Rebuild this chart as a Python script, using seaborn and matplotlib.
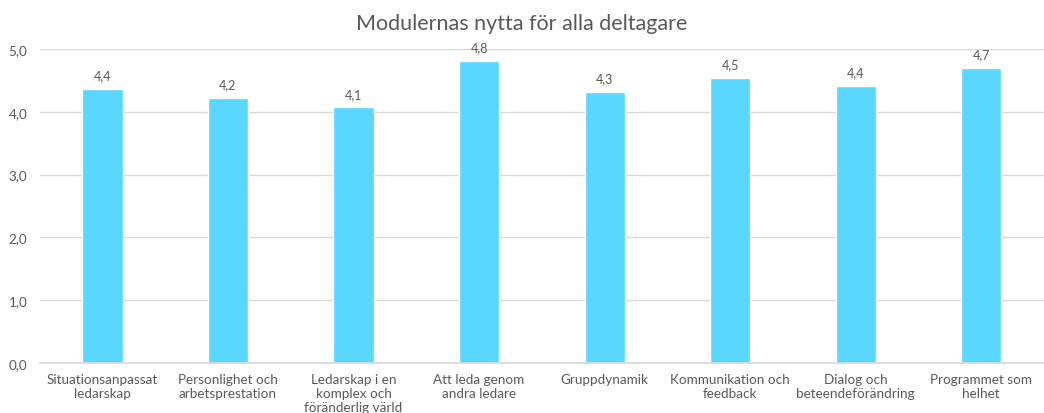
import matplotlib
matplotlib.use("Agg")
import matplotlib.pyplot as plt
import seaborn as sns
import pandas as pd

sns.set_theme(style="white")
plt.rcParams['font.family'] = ['Lato', 'DejaVu Sans']

modules = [
    "Situationsanpassat\nledarskap",
    "Personlighet och\narbetsprestation",
    "Ledarskap i en\nkomplex och\nföränderlig värld",
    "Att leda genom\nandra ledare",
    "Gruppdynamik",
    "Kommunikation och\nfeedback",
    "Dialog och\nbeteendeförändring",
    "Programmet som\nhelhet",
]
scores = [4.36, 4.22, 4.07, 4.81, 4.32, 4.54, 4.41, 4.70]
yticks = [0, 1, 2, 3, 4, 5]

df = pd.DataFrame({"Modul": modules, "Nytta": scores})

text_col = "#595959"
bar_col = "#59D7FF"

fig = plt.figure(figsize=(10.44, 4.14), dpi=100)
ax = fig.add_axes([0.038, 0.121, 0.962, 0.758])

ax.set_axisbelow(True)
ax.yaxis.grid(True, color="#D9D9D9", linewidth=1)
sns.barplot(data=df, x="Modul", y="Nytta", color=bar_col, width=0.32,
            saturation=1, ax=ax)

for i, v in enumerate(df["Nytta"]):
    ax.annotate(f"{v:.1f}".replace(".", ","), (i, v), xytext=(0, 5.5),
                textcoords="offset points", ha="center", va="bottom",
                fontsize=9, color=text_col)

ax.set_ylim(0, 5)
ax.set_xlim(-0.5, len(modules) - 0.5)
ax.set_yticks(yticks)
ax.set_yticklabels([f"{t:.1f}".replace(".", ",") for t in yticks])
ax.tick_params(axis="both", length=0, labelsize=9.7, colors=text_col)
ax.tick_params(axis="x", pad=7)
ax.tick_params(axis="y", pad=9)
for s in ["top", "right", "left"]:
    ax.spines[s].set_visible(False)
ax.spines["bottom"].set_color("#D9D9D9")
ax.set_xlabel("")
ax.set_ylabel("")
for lbl in ax.get_xticklabels():
    lbl.set_linespacing(1.2)

fig.suptitle("Modulernas nytta för alla deltagare", y=0.965, fontsize=15.5,
             color=text_col)

plt.savefig("out.png", dpi=100)
